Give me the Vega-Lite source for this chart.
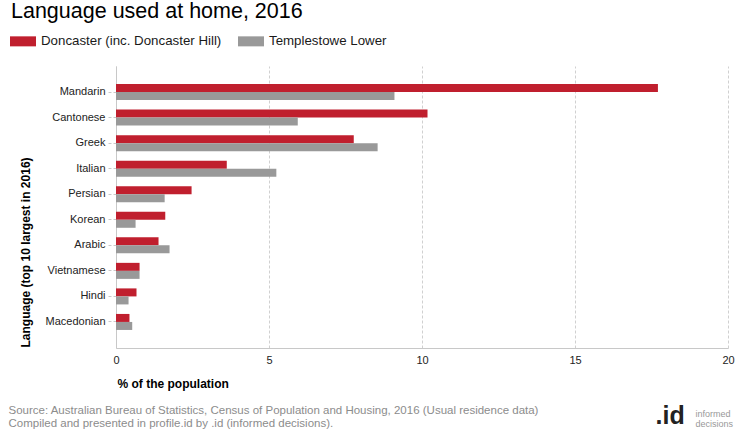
{
  "$schema": "https://vega.github.io/schema/vega-lite/v6.json",
  "width": 612,
  "height": 282,
  "autosize": {"type": "none"},
  "padding": {"left": 116, "top": 66, "right": 12, "bottom": 92},
  "background": "white",
  "title": {
    "text": "Language used at home, 2016",
    "anchor": "start",
    "frame": "group",
    "fontSize": 21.5,
    "fontWeight": "normal",
    "font": "Liberation Sans",
    "color": "#000000",
    "dx": -105,
    "dy": 19,
    "baseline": "alphabetic",
    "offset": 8
  },
  "data": {
    "values": [
      {"lang": "Mandarin", "series": "Doncaster (inc. Doncaster Hill)", "value": 17.71},
      {"lang": "Mandarin", "series": "Templestowe Lower", "value": 9.10},
      {"lang": "Cantonese", "series": "Doncaster (inc. Doncaster Hill)", "value": 10.18},
      {"lang": "Cantonese", "series": "Templestowe Lower", "value": 5.94},
      {"lang": "Greek", "series": "Doncaster (inc. Doncaster Hill)", "value": 7.77},
      {"lang": "Greek", "series": "Templestowe Lower", "value": 8.55},
      {"lang": "Italian", "series": "Doncaster (inc. Doncaster Hill)", "value": 3.62},
      {"lang": "Italian", "series": "Templestowe Lower", "value": 5.24},
      {"lang": "Persian", "series": "Doncaster (inc. Doncaster Hill)", "value": 2.47},
      {"lang": "Persian", "series": "Templestowe Lower", "value": 1.59},
      {"lang": "Korean", "series": "Doncaster (inc. Doncaster Hill)", "value": 1.61},
      {"lang": "Korean", "series": "Templestowe Lower", "value": 0.64},
      {"lang": "Arabic", "series": "Doncaster (inc. Doncaster Hill)", "value": 1.39},
      {"lang": "Arabic", "series": "Templestowe Lower", "value": 1.75},
      {"lang": "Vietnamese", "series": "Doncaster (inc. Doncaster Hill)", "value": 0.77},
      {"lang": "Vietnamese", "series": "Templestowe Lower", "value": 0.77},
      {"lang": "Hindi", "series": "Doncaster (inc. Doncaster Hill)", "value": 0.67},
      {"lang": "Hindi", "series": "Templestowe Lower", "value": 0.41},
      {"lang": "Macedonian", "series": "Doncaster (inc. Doncaster Hill)", "value": 0.44},
      {"lang": "Macedonian", "series": "Templestowe Lower", "value": 0.53}
    ]
  },
  "layer": [
    {
      "mark": {"type": "bar"},
      "encoding": {
        "y": {
          "field": "lang",
          "type": "nominal",
          "sort": ["Mandarin", "Cantonese", "Greek", "Italian", "Persian", "Korean", "Arabic", "Vietnamese", "Hindi", "Macedonian"],
          "scale": {"paddingInner": 0.373, "paddingOuter": 0.706},
          "axis": {
            "orient": "left",
            "domainColor": "#c8c8c8",
            "tickColor": "#c8c8c8",
            "tickDash": [3, 2],
            "tickSize": 8,
            "labelPadding": 3,
            "labelFontSize": 11,
            "labelColor": "#222222",
            "grid": false,
            "title": "Language (top 10 largest in 2016)",
            "titleFontSize": 12,
            "titleFontWeight": "bold",
            "titleColor": "#000000",
            "titleAngle": 270,
            "titleAlign": "left",
            "titleBaseline": "alphabetic",
            "titleX": -87,
            "titleY": 281
          }
        },
        "yOffset": {
          "field": "series",
          "type": "nominal",
          "sort": ["Doncaster (inc. Doncaster Hill)", "Templestowe Lower"],
          "scale": {"paddingInner": 0, "paddingOuter": 0}
        },
        "x": {
          "field": "value",
          "type": "quantitative",
          "scale": {"domain": [0, 20], "nice": false},
          "axis": {
            "orient": "bottom",
            "values": [0, 5, 10, 15, 20],
            "grid": true,
            "gridDash": [3, 2],
            "gridColor": "#d0d0d0",
            "domainColor": "#c8c8c8",
            "ticks": false,
            "labelFlush": false,
            "labelFontSize": 11,
            "labelColor": "#222222",
            "labelPadding": 6,
            "title": "% of the population",
            "titleFontSize": 12,
            "titleFontWeight": "bold",
            "titleColor": "#000000",
            "titleAlign": "left",
            "titleAnchor": "start",
            "titleBaseline": "alphabetic",
            "titleX": 1,
            "titleY": 39
          }
        },
        "color": {
          "field": "series",
          "type": "nominal",
          "scale": {"domain": ["Doncaster (inc. Doncaster Hill)", "Templestowe Lower"], "range": ["#C01F2E", "#999999"]},
          "legend": {
            "orient": "none",
            "legendX": -106,
            "legendY": -38,
            "direction": "horizontal",
            "title": null,
            "symbolType": "M-1,-0.385H1V0.385H-1Z",
            "symbolSize": 676,
            "symbolStrokeWidth": 0,
            "symbolOpacity": 1,
            "labelFontSize": 13.3,
            "labelColor": "#1a1a1a",
            "labelOffset": 5,
            "columnPadding": 16,
            "labelLimit": 300
          }
        }
      }
    },
    {
      "mark": {"type": "point", "opacity": 0},
      "encoding": {
        "x": {
          "field": "value",
          "type": "quantitative",
          "axis": {
            "orient": "top",
            "domain": false,
            "ticks": false,
            "labels": false,
            "grid": false,
            "title": ["Source: Australian Bureau of Statistics, Census of Population and Housing, 2016 (Usual residence data)", "Compiled and presented in profile.id by .id (informed decisions)."],
            "titleFontSize": 11.5,
            "titleFontWeight": "normal",
            "titleColor": "#8c8c8c",
            "titleAlign": "left",
            "titleBaseline": "alphabetic",
            "titleX": -108,
            "titleY": 347.5,
            "titleLineHeight": 13
          }
        },
        "y": {
          "field": "lang",
          "type": "nominal",
          "sort": ["Mandarin", "Cantonese", "Greek", "Italian", "Persian", "Korean", "Arabic", "Vietnamese", "Hindi", "Macedonian"],
          "axis": {
            "orient": "right",
            "domain": false,
            "ticks": false,
            "labels": false,
            "grid": false,
            "title": ".id",
            "titleAngle": 0,
            "titleFontSize": 25,
            "titleFontWeight": "bold",
            "titleColor": "#222222",
            "titleAlign": "left",
            "titleBaseline": "alphabetic",
            "titleX": -73,
            "titleY": 357
          }
        }
      }
    },
    {
      "mark": {"type": "point", "opacity": 0},
      "encoding": {
        "x": {"field": "value", "type": "quantitative", "axis": null},
        "y": {
          "field": "lang",
          "type": "nominal",
          "sort": ["Mandarin", "Cantonese", "Greek", "Italian", "Persian", "Korean", "Arabic", "Vietnamese", "Hindi", "Macedonian"],
          "axis": {
            "orient": "right",
            "domain": false,
            "ticks": false,
            "labels": false,
            "grid": false,
            "title": ["informed", "decisions"],
            "titleAngle": 0,
            "titleFontSize": 9,
            "titleFontWeight": "normal",
            "titleColor": "#999999",
            "titleAlign": "left",
            "titleBaseline": "alphabetic",
            "titleX": -33,
            "titleY": 350.5,
            "titleLineHeight": 9.5
          }
        }
      }
    }
  ],
  "resolve": {"axis": {"x": "independent", "y": "independent"}},
  "config": {
    "view": {"stroke": null},
    "font": "Liberation Sans",
    "axis": {"labelFont": "Liberation Sans", "titleFont": "Liberation Sans"},
    "legend": {"labelFont": "Liberation Sans"}
  }
}
